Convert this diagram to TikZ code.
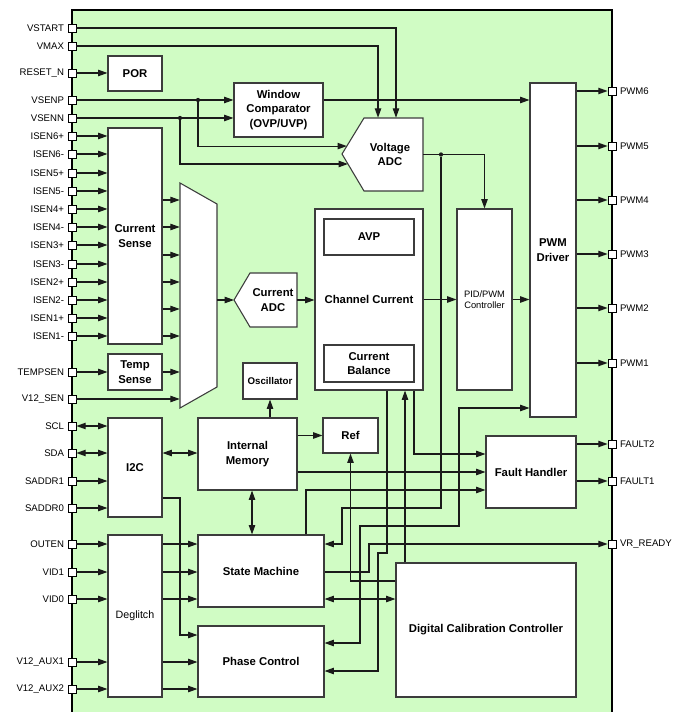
\documentclass[tikz,border=0pt]{standalone}
\usepackage{fontspec}
\setmainfont{Liberation Sans}
\usetikzlibrary{arrows.meta,positioning,calc}
\definecolor{chipgreen}{HTML}{D0FCC4}
\definecolor{wirecol}{HTML}{1A1A1A}
\definecolor{edgecol}{HTML}{3C3C3C}
\tikzstyle{block} = [rectangle, draw=edgecol, line width=0.8pt, fill=white, inner sep=0pt,
    align=center, font=\fontsize{8.5}{10.8}\selectfont\bfseries]
\tikzstyle{thinblock} = [block, font=\fontsize{7}{8.6}\selectfont]
\tikzstyle{shapeline} = [draw=edgecol, line width=0.8pt, fill=white]
\tikzstyle{adclabel} = [inner sep=0pt, align=center, font=\fontsize{8.5}{10.8}\selectfont\bfseries]
\tikzstyle{pad} = [rectangle, draw=black, fill=white, line width=0.6pt, minimum size=6pt, inner sep=0pt]
\tikzstyle{padlabel} = [font=\fontsize{7.2}{8}\selectfont, inner sep=0.5pt]
\tikzstyle{arrow} = [-{Triangle[length=7pt,width=4.8pt]}, line width=0.85pt, wirecol]
\tikzstyle{dblarrow} = [{Triangle[length=7pt,width=4.8pt]}-{Triangle[length=7pt,width=4.8pt]}, line width=0.85pt, wirecol]
\tikzstyle{wire} = [line width=0.85pt, wirecol]
\tikzstyle{junction} = [circle, fill=wirecol, inner sep=0pt, minimum size=3.2pt]
\tikzset{boxsize/.style 2 args={minimum width=#1*0.75pt, minimum height=#2*0.75pt}}

\begin{document}
\begin{tikzpicture}[x=0.75pt, y=-0.75pt]
\useasboundingbox (0,0) rectangle (687,712);
% chip body
\fill[chipgreen] (72,10) rectangle (612,712);
\draw[line width=1.5pt] (72,712) -- (72,10) -- (612,10) -- (612,712);

% blocks
\node[block, boxsize={54}{35}] (por) at (135,73.5) {POR};
\node[block, boxsize={89}{54}] (wcomp) at (278.5,110) {Window\\Comparator\\(OVP/UVP)};
\node[block, boxsize={54}{216}] (csense) at (135,236) {Current\\Sense};
\node[block, boxsize={54}{36}] (tsense) at (135,372) {Temp\\Sense};
\node[block, boxsize={108}{181}] (chcur) at (369,299.5) {Channel Current};
\node[block, boxsize={90}{36}] (avp) at (369,237) {AVP};
\node[block, boxsize={90}{37}] (cbal) at (369,363.5) {Current\\Balance};
\node[block, boxsize={54}{36}, font=\fontsize{7.3}{9}\selectfont\bfseries] (osc) at (270,381) {Oscillator};
\node[block, boxsize={99}{72}] (imem) at (247.5,454) {Internal\\Memory};
\node[block, boxsize={55}{35}] (ref) at (350.5,435.5) {Ref};
\node[thinblock, boxsize={55}{181}] (pid) at (484.5,299.5) {PID/PWM\\Controller};
\node[block, boxsize={46}{334}] (pwmdrv) at (553,250) {PWM\\Driver};
\node[block, boxsize={90}{72}] (fault) at (531,472) {Fault Handler};
\node[block, boxsize={54}{99}] (i2c) at (135,467.5) {I2C};
\node[thinblock, boxsize={54}{162}, font=\fontsize{8}{9.6}\selectfont] (degl) at (135,616) {Deglitch};
\node[block, boxsize={126}{72}] (sm) at (261,571) {State Machine};
\node[block, boxsize={126}{71}] (phase) at (261,661.5) {Phase Control};
\node[block, boxsize={180}{134}] (dcc) at (486,630) {Digital Calibration Controller};

% converters and mux
\draw[shapeline] (364,118) coordinate (vadc-nw) -- (423,118) -- (423,191) -- (364,191) coordinate (vadc-sw)
    -- (342,154) coordinate (vadc-tip) -- cycle;
\node[adclabel, boxsize={66}{73}] (vadc) at (390,154.5) {Voltage\\ADC};
\coordinate (vadc-inp) at ($(vadc-nw)!0.78!(vadc-tip)$);
\coordinate (vadc-inn) at ($(vadc-tip)!0.27!(vadc-sw)$);
\draw[shapeline] (250,273) -- (297,273) -- (297,327) -- (250,327) -- (234,300) coordinate (cadc-tip) -- cycle;
\node[adclabel, boxsize={47}{54}] (cadc) at (273,300) {Current\\ADC};
\draw[shapeline] (180,183) -- (217,204) -- (217,387) -- (180,408) -- cycle;
\node[inner sep=0pt, boxsize={37}{225}] (mux) at (198.5,295.5) {};

% pads
\foreach \nm/\txt/\yy in {vstart/VSTART/28, vmax/VMAX/46, resetn/RESET\_N/73,
    vsenp/VSENP/100, vsenn/VSENN/118, isen6p/ISEN6+/136, isen6m/ISEN6-/154,
    isen5p/ISEN5+/173, isen5m/ISEN5-/191, isen4p/ISEN4+/209, isen4m/ISEN4-/227,
    isen3p/ISEN3+/245, isen3m/ISEN3-/264, isen2p/ISEN2+/282, isen2m/ISEN2-/300,
    isen1p/ISEN1+/318, isen1m/ISEN1-/336, tempsen/TEMPSEN/372, vsen12/V12\_SEN/399,
    scl/SCL/426, sda/SDA/453, saddr1/SADDR1/481, saddr0/SADDR0/508,
    outen/OUTEN/544, vid1/VID1/572, vid0/VID0/599, aux1/V12\_AUX1/662, aux2/V12\_AUX2/689}
{
  \node[pad] (\nm) at (72,\yy) {};
  \node[padlabel, left=2pt of \nm] (\nm-txt) {\txt};
}
\foreach \nm/\txt/\yy in {pwm6/PWM6/91, pwm5/PWM5/146, pwm4/PWM4/200, pwm3/PWM3/254,
    pwm2/PWM2/308, pwm1/PWM1/363, fault2/FAULT2/444, fault1/FAULT1/481, vrready/VR\_READY/544}
{
  \node[pad] (\nm) at (612,\yy) {};
  \node[padlabel, right=2pt of \nm] (\nm-txt) {\txt};
}

% junctions
\node[junction] (jp) at (vsenp -| 198,0) {};
\node[junction] (jn) at (vsenn -| 180,0) {};
\node[junction] (jv) at (vadc.east -| 441,0) {};

% inputs
\draw[arrow] (resetn) -- (por.west |- resetn);
\draw[arrow] (vsenp) -- (wcomp.west |- vsenp);
\draw[arrow] (vsenn) -- (wcomp.west |- vsenn);
\draw[arrow] (vstart) -| ($(vadc.north west)!0.59!(vadc.north east)$);
\draw[arrow] (vmax) -| ($(vadc.north west)!0.32!(vadc.north east)$);
\draw[arrow] (jp) |- (vadc-inp);
\draw[arrow] (jn) |- (vadc-inn);
\foreach \nm in {isen6p,isen6m,isen5p,isen5m,isen4p,isen4m,isen3p,isen3m,isen2p,isen2m,isen1p,isen1m}
  \draw[arrow] (\nm) -- (csense.west |- \nm);
\draw[arrow] (tempsen) -- (tsense.west |- tempsen);
\draw[arrow] (vsen12) -- (mux.west |- vsen12);
\foreach \nm in {scl,sda} \draw[dblarrow] (\nm) -- (i2c.west |- \nm);
\foreach \nm in {saddr1,saddr0} \draw[arrow] (\nm) -- (i2c.west |- \nm);
\foreach \nm in {outen,vid1,vid0,aux1,aux2} \draw[arrow] (\nm) -- (degl.west |- \nm);

% current and voltage path
\foreach \yy in {200,227,255,282,309,336}
  \draw[arrow] (csense.east |- 0,\yy) -- (mux.west |- 0,\yy);
\draw[arrow] (tsense) -- (mux.west |- tsense);
\draw[arrow] (mux.east |- cadc-tip) -- (cadc-tip);
\draw[arrow] (cadc.east) -- (chcur.west |- cadc.east);
\draw[arrow] (chcur.east) -- (pid.west |- chcur.east);
\draw[arrow] (pid.east) -- (pwmdrv.west |- pid.east);
\draw[arrow] (wcomp.east |- vsenp) -- (pwmdrv.west |- vsenp);
\draw[wire] (vadc.east) -- (jv);
\draw[arrow] (jv) -| (pid.north);
\draw[arrow] (jv) |- (342,508) |- (sm.east |- outen);

% outputs
\foreach \nm in {pwm6,pwm5,pwm4,pwm3,pwm2,pwm1} \draw[arrow] (pwmdrv.east |- \nm) -- (\nm);
\foreach \nm in {fault2,fault1} \draw[arrow] (fault.east |- \nm) -- (\nm);

% control side
\draw[dblarrow] (i2c.east |- sda) -- (imem.west |- sda);
\draw[arrow] (osc.south |- imem.north) -- (osc.south);
\draw[arrow] (imem.east |- ref) -- (ref.west);
\draw[arrow] (imem.east |- fault) -- (fault.west);
\draw[dblarrow] (imem.south -| 252,0) -- (sm.north -| 252,0);
\draw[arrow] (i2c.east |- 0,498) -| (180,635) -- (phase.west |- 0,635);
\foreach \nm in {outen,vid1,vid0} \draw[arrow] (degl.east |- \nm) -- (sm.west |- \nm);
\foreach \nm in {aux1,aux2} \draw[arrow] (degl.east |- \nm) -- (phase.west |- \nm);
\draw[arrow] (sm.north -| 306,0) |- (fault.west |- 0,490);
\draw[arrow] (chcur.south -| 414,0) |- (fault.west |- 0,454);
\draw[arrow] (dcc.north -| 405,0) -- (chcur.south -| 405,0);
\draw[arrow] (dcc.west |- 0,581) -| (ref.south);
\draw[dblarrow] (sm.east |- vid0) -- (dcc.west |- vid0);
\draw[arrow] (sm.east |- vid1) -| (369,544) -- (vrready);
\draw[arrow] (chcur.south -| 387,0) |- (378,553) |- (phase.east |- 0,671);
\draw[dblarrow] (pwmdrv.west |- 0,408) -| (459,526) -| (360,643) -- (phase.east |- 0,643);
\end{tikzpicture}
\end{document}
